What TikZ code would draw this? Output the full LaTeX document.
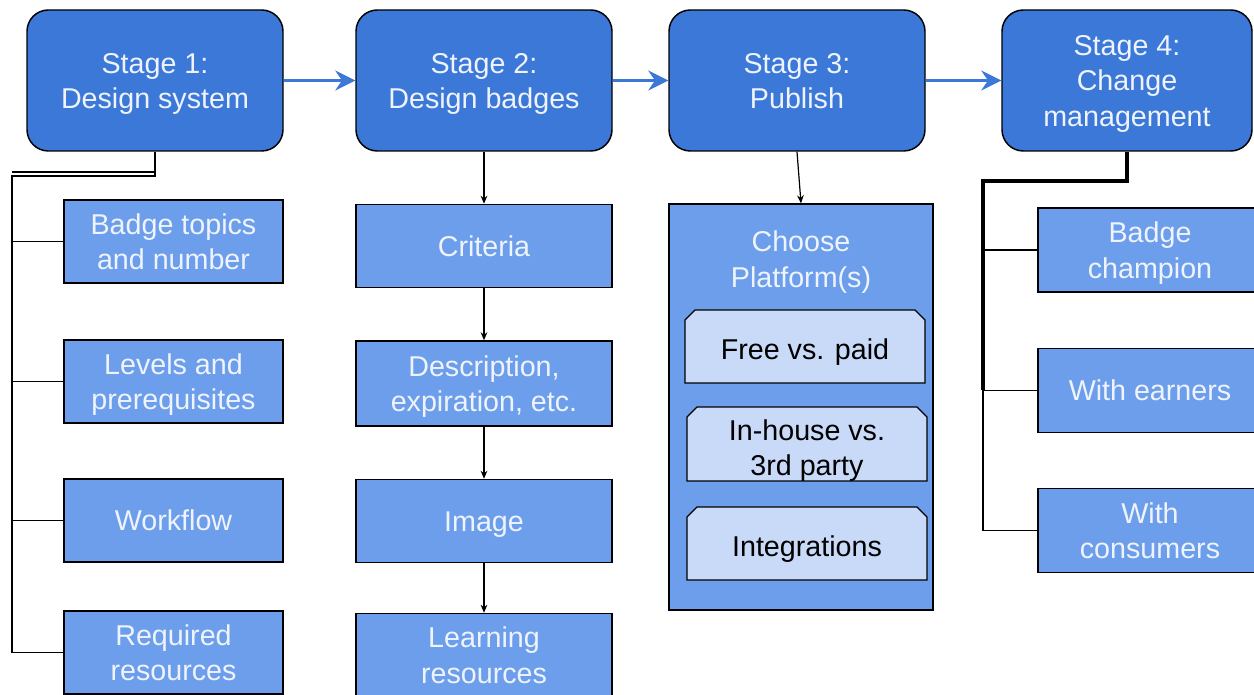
\documentclass[tikz,border=0pt]{standalone}
\usepackage{fontspec}
\setmainfont{Liberation Sans}
\usetikzlibrary{arrows.meta}
\definecolor{stageblue}{HTML}{3C78D8}
\definecolor{subblue}{HTML}{6D9EEB}
\definecolor{paleblue}{HTML}{C9DAF8}
\definecolor{lighttext}{HTML}{EEF3FC}
\newcommand{\topstrut}{\rule{0pt}{15.7pt}}
\begin{document}
\begin{tikzpicture}[x=0.75pt,y=-0.75pt,
  txt/.style={font=\fontsize{21.5}{26.4}\selectfont, align=center, inner sep=0pt,
    text depth=0pt},
  stagebox/.style={txt, draw=black, line width=1.1pt, fill=stageblue, text=lighttext,
    rounded corners=16pt, minimum width=192pt, minimum height=105.75pt},
  subbox/.style={txt, draw=black, line width=1.1pt, fill=subblue, text=lighttext},
  chamf/.style={draw=black, line width=1pt, fill=paleblue},
  innertxt/.style={txt, text=black},
  flow/.style={draw=stageblue, line width=1.6pt, -{Stealth[length=15pt,width=15pt,inset=5pt]}},
  down/.style={draw=black, line width=0.9pt, -{Stealth[length=6pt,width=5pt]}},
  tree/.style={draw=black, line width=1pt},
  thicktree/.style={draw=black, line width=3pt}
]
\useasboundingbox (0,0) rectangle (1254,695);

% stage boxes
\node[stagebox] (s1) at (155,80.5) {\topstrut Stage 1:\\Design system};
\node[stagebox] (s2) at (484,80.5) {\topstrut Stage 2:\\Design badges};
\node[stagebox] (s3) at (797,80.5) {\topstrut Stage 3:\\Publish};
\node[stagebox, minimum width=187.5pt] (s4) at (1127,80.5) {\topstrut Stage 4:\\Change\\management};

\draw[flow] (s1.east) -- (s2.west);
\draw[flow] (s2.east) -- (s3.west);
\draw[flow] (s3.east) -- (s4.west);

% stage 1 children
\begin{scope}[every node/.append style={subbox, minimum width=164.25pt, minimum height=62.25pt}]
\node (a1) at (173.5,241.5) {\topstrut Badge topics\\and number};
\node (a2) at (173.5,381.5) {\topstrut Levels and\\prerequisites};
\node (a3) at (173.5,520.5) {\topstrut Workflow};
\node (a4) at (173.5,652.5) {\topstrut Required\\resources};
\end{scope}
\coordinate (bus1) at (12,176);
\coordinate (bus1b) at (12,172);
\coordinate (s1b) at (155,172);
\draw[tree] (s1.south) |- (bus1) -- (bus1 |- a4.west) -- (a4.west);
\draw[tree] (s1b) -- (bus1b);
\draw[tree] (bus1 |- a1.west) -- (a1.west);
\draw[tree] (bus1 |- a2.west) -- (a2.west);
\draw[tree] (bus1 |- a3.west) -- (a3.west);

% stage 2 children
\begin{scope}[every node/.append style={subbox, minimum width=192pt, minimum height=62.25pt}]
\node (b1) at (484,246) {\topstrut Criteria};
\node[minimum height=63.75pt] (b2) at (484,383.5) {\topstrut Description,\\expiration, etc.};
\node (b3) at (484,521) {\topstrut Image};
\node (b4) at (484,655) {\topstrut Learning\\resources};
\end{scope}
\draw[down] (s2.south) -- (b1.north);
\draw[down] (b1.south) -- (b2.north);
\draw[down] (b2.south) -- (b3.north);
\draw[down] (b3.south) -- (b4.north);

% stage 3
\node[subbox, minimum width=198pt, minimum height=304.5pt] (plat) at (801,407) {};
\node[txt, text=lighttext] (platlbl) at (801,259) {\topstrut Choose\\Platform(s)};
\draw[down] (s3.south) -- (plat.north);

\path[chamf] (685,383) -- (685,320) -- (695,310) -- (915,310) -- (925,320) -- (925,383) -- cycle;
\node[innertxt] (c1) at (805,349) {\topstrut Free vs. paid};
\path[chamf] (687,481) -- (687,417) -- (697,407) -- (917,407) -- (927,417) -- (927,481) -- cycle;
\node[innertxt] (c2) at (807,447.5) {\topstrut In-house vs.\\3rd party};
\path[chamf] (687,580) -- (687,517) -- (697,507) -- (917,507) -- (927,517) -- (927,580) -- cycle;
\node[innertxt] (c3) at (807,546) {\topstrut Integrations};

% stage 4 children
\begin{scope}[every node/.append style={subbox, minimum width=168pt, minimum height=63pt}]
\node (d1) at (1150,250) {\topstrut Badge\\champion};
\node (d2) at (1150,390.5) {\topstrut With earners};
\node (d3) at (1150,530.5) {\topstrut With\\consumers};
\end{scope}
\coordinate (bus4) at (983,181);
\draw[thicktree] (s4.south) |- (bus4) -- (bus4 |- d2.west);
\draw[tree] (bus4 |- d2.west) -- (bus4 |- d3.west) -- (d3.west);
\draw[tree] (bus4 |- d1.west) -- (d1.west);
\draw[tree] (bus4 |- d2.west) -- (d2.west);
\end{tikzpicture}
\end{document}
